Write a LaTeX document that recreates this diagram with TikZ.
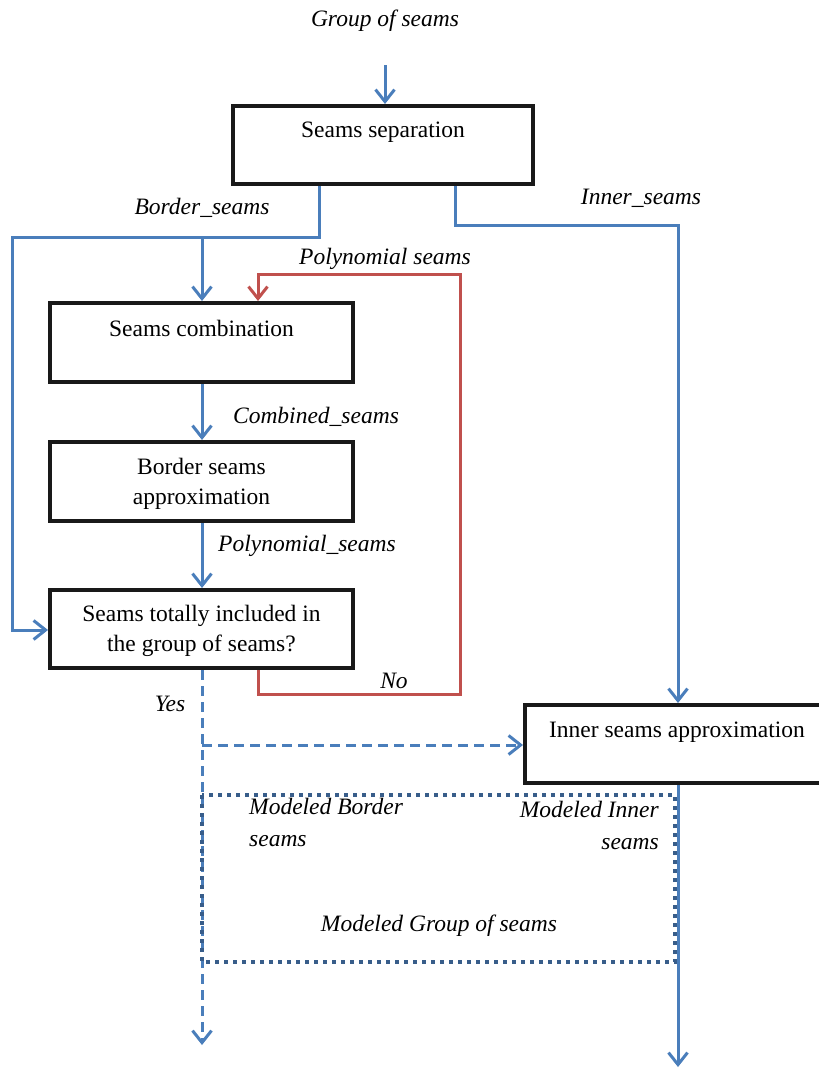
\documentclass[tikz,border=0pt]{standalone}
\usepackage{fontspec}
\setmainfont{Liberation Serif}
\usetikzlibrary{arrows.meta}
\definecolor{flowblue}{HTML}{4A7EBB}
\definecolor{flowred}{HTML}{C0504D}
\definecolor{groupblue}{HTML}{385D8A}
\begin{document}
\begin{tikzpicture}[x=1pt,y=-1pt,
  font=\fontsize{23.5}{30}\selectfont,
  stepbox/.style={draw=black!90,line width=4pt,minimum width=300pt,minimum height=78pt,inner sep=0pt,align=center},
  tag/.style={font=\fontsize{23.5}{32}\selectfont\itshape,inner sep=0pt},
  tip/.style={-{Straight Barb[length=12pt,width=19pt,line width=3pt]}},
  flow/.style={flowblue,line width=3pt},
  loop/.style={flowred,line width=3pt},
  yesflow/.style={flowblue,line width=3pt,dash pattern=on 10pt off 6pt},
  grp/.style={groupblue,line width=3.5pt,dash pattern=on 4pt off 5pt}]
\useasboundingbox (0,0) rectangle (819,1068);

% process boxes
\node[stepbox,label={[yshift=13pt]center:Seams separation}] (sep) at (383,145) {};
\node[stepbox,minimum width=303pt,minimum height=79pt,label={[yshift=14pt]center:Seams combination}] (comb) at (201.5,342.5) {};
\node[stepbox,minimum width=303pt,minimum height=79pt,label={[align=center,yshift=-2pt]center:Border seams\\approximation}] (bapp) at (201.5,481.5) {};
\node[stepbox,minimum width=303pt,minimum height=78pt,label={[align=center,yshift=-2pt]center:Seams totally included in\\the group of seams?}] (incl) at (201.5,629) {};
\node[stepbox,minimum width=304pt,label={[yshift=12pt]center:Inner seams approximation}] (iapp) at (677,744) {};

% free ends and bends
\coordinate (in0) at (385,65);
\coordinate (bdA) at (319,237);
\coordinate (bdB) at (12,237);
\coordinate (bdC) at (12,630);
\coordinate (bdJ) at (202,237);
\coordinate (inA) at (455,225);
\coordinate (inB) at (678,225);
\coordinate (rdA) at (258,694);
\coordinate (rdB) at (460,694);
\coordinate (rdC) at (460,274);
\coordinate (rdD) at (258,274);
\coordinate (yesEnd) at (202,1045);
\coordinate (yesJ) at (202,745);
\coordinate (outEnd) at (678,1067);

% labels
\node[tag] (lgrp) at (385,21) {Group of seams};
\node[tag] (lbd) at (202,208) {Border\_seams};
\node[tag] (lin) at (641,198) {Inner\_seams};
\node[tag] (lpoly) at (385,259) {Polynomial seams};
\node[tag] (lcomb) at (316,417) {Combined\_seams};
\node[tag] (lpol2) at (307,546) {Polynomial\_seams};
\node[tag] (lno) at (394,681) {No};
\node[tag] (lyes) at (170,704) {Yes};
\node[tag,anchor=base west] (lmb1) at (249,814) {Modeled Border};
\node[tag,anchor=base west] (lmb2) at (249,846) {seams};
\node[tag,anchor=base east] (lmi1) at (659,817) {Modeled Inner};
\node[tag,anchor=base east] (lmi2) at (659,849) {seams};
\node[tag] (lmg) at (439,926) {Modeled Group of seams};

% connectors
\draw[flow,tip] (in0) -- (sep.north -| in0);
\draw[flow,tip] (sep.south -| bdA) -- (bdA) -- (bdB) -- (bdC) -- (incl.west |- bdC);
\draw[flow,tip] (bdJ) -- (comb.north -| bdJ);
\draw[flow,tip] (sep.south -| inA) -- (inA) -- (inB) -- (iapp.north -| inB);
\draw[flow,tip] (comb.south -| bdJ) -- (bapp.north -| bdJ);
\draw[flow,tip] (bapp.south -| bdJ) -- (incl.north -| bdJ);
\draw[loop,tip] (incl.south -| rdA) -- (rdA) -- (rdB) -- (rdC) -- (rdD) -- (comb.north -| rdD);
\draw[yesflow,tip] (incl.south -| yesEnd) -- (yesEnd);
\draw[yesflow,tip] (yesJ) -- (iapp.west |- yesJ);
\draw[flow,tip] (iapp.south -| outEnd) -- (outEnd);

% modeled group frame
\draw[grp] (202,795) rectangle (675,962);
\end{tikzpicture}
\end{document}
